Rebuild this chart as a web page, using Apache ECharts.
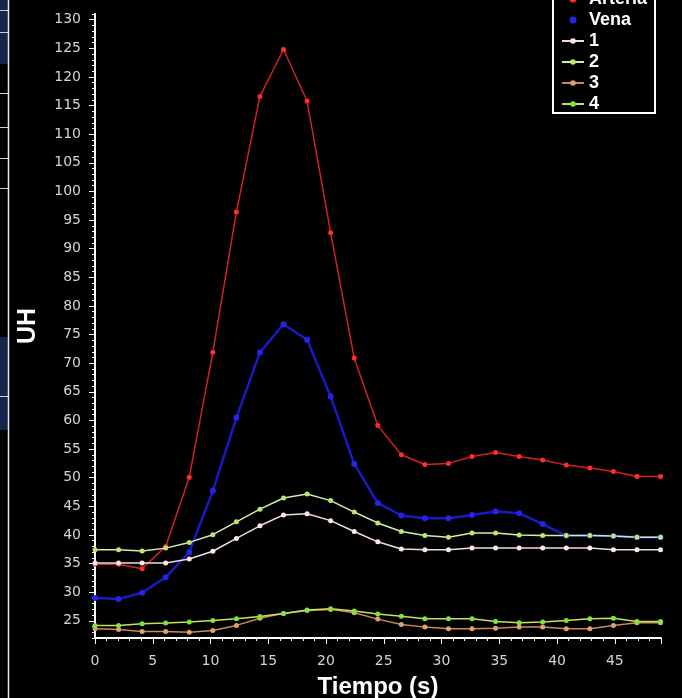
<!DOCTYPE html>
<html>
<head>
<meta charset="utf-8">
<script src="https://cdn.jsdelivr.net/npm/echarts@6/dist/echarts.min.js"></script>
<style>
html,body{margin:0;padding:0;background:#000;}
#c{width:682px;height:698px;}
</style>
</head>
<body>
<div id="c"></div>
<script>
var times = [0, 2.04, 4.08, 6.12, 8.16, 10.2, 12.24, 14.28, 16.32, 18.36, 20.4, 22.44, 24.48, 26.52, 28.56, 30.6, 32.64, 34.68, 36.72, 38.76, 40.8, 42.84, 44.88, 46.92, 48.96];
var arteria = [34.9, 34.9, 34.1, 38.0, 50.1, 71.9, 96.4, 116.6, 124.8, 115.8, 92.8, 70.9, 59.1, 54.0, 52.3, 52.5, 53.7, 54.4, 53.7, 53.1, 52.2, 51.7, 51.1, 50.2, 50.2];
var vena = [29.0, 28.8, 29.9, 32.6, 37.0, 47.7, 60.5, 71.9, 76.8, 74.1, 64.2, 52.4, 45.6, 43.4, 42.9, 42.9, 43.5, 44.1, 43.8, 41.9, 39.9, 39.9, 39.8, 39.6, 39.6];
var roi1 = [35.1, 35.1, 35.1, 35.1, 35.8, 37.15, 39.4, 41.6, 43.5, 43.7, 42.5, 40.6, 38.8, 37.55, 37.4, 37.4, 37.7, 37.7, 37.7, 37.7, 37.7, 37.7, 37.4, 37.4, 37.4];
var roi2 = [37.4, 37.4, 37.2, 37.7, 38.7, 40.05, 42.3, 44.5, 46.45, 47.15, 46.0, 44.0, 42.1, 40.6, 39.9, 39.6, 40.35, 40.35, 40.0, 39.9, 39.9, 39.9, 39.8, 39.6, 39.6];
var roi3 = [23.6, 23.5, 23.15, 23.15, 23.0, 23.3, 24.2, 25.45, 26.3, 26.8, 27.0, 26.4, 25.3, 24.35, 23.9, 23.6, 23.6, 23.7, 23.9, 23.9, 23.6, 23.6, 24.2, 24.65, 24.65];
var roi4 = [24.2, 24.2, 24.5, 24.6, 24.8, 25.05, 25.35, 25.75, 26.3, 26.9, 27.1, 26.7, 26.2, 25.8, 25.35, 25.35, 25.35, 24.9, 24.65, 24.8, 25.05, 25.35, 25.45, 24.9, 24.9];
var seriesNames = ['Arteria', 'Vena', '1', '2', '3', '4'];
var yTickLabels = [25, 30, 35, 40, 45, 50, 55, 60, 65, 70, 75, 80, 85, 90, 95, 100, 105, 110, 115, 120, 125, 130];

var yMin = 22, yMax = 131;
var yMinor = [];
for (var v = yMin; v <= yMax; v++) yMinor.push(v);

function pairs(vals) {
  return times.map(function (t, i) { return [t, vals[i]]; });
}

var styles = [
  {line: '#d02222', sym: '#ff2c2c', w: 1.5},
  {line: '#1a1ac4', sym: '#2424e8', w: 2.5},
  {line: '#eedde4', sym: '#ffe4ee', w: 1.5},
  {line: '#d4ecb0', sym: '#b8e868', w: 1.5},
  {line: '#c88a5a', sym: '#e0a070', w: 1.5},
  {line: '#c8e060', sym: '#78e838', w: 1.5}
];
var dataSets = [arteria, vena, roi1, roi2, roi3, roi4];

var series = dataSets.map(function (d, i) {
  return {
    name: seriesNames[i],
    type: 'line',
    data: pairs(d),
    xAxisIndex: 0,
    yAxisIndex: 0,
    symbol: 'circle',
    symbolSize: i === 1 ? 6 : 5,
    showSymbol: true,
    lineStyle: {color: styles[i].line, width: styles[i].w},
    itemStyle: {color: styles[i].sym},
    emphasis: {disabled: true},
    animation: false
  };
});

var labelFont = 'DejaVu Sans, Verdana, sans-serif';
var titleFont = 'Liberation Sans, Arial, sans-serif';

var chart = echarts.init(document.getElementById('c'));
chart.setOption({
  backgroundColor: '#000',
  animation: false,
  grid: {left: 95, right: 21, top: 14, bottom: 60, containLabel: false, outerBoundsMode: 'none'},
  legend: {
    orient: 'vertical',
    right: 27,
    top: -15,
    padding: [5, 8, 0, 8],
    itemGap: 3,
    itemWidth: 22,
    itemHeight: 7,
    backgroundColor: '#000',
    borderColor: '#ffffff',
    borderWidth: 2,
    textStyle: {color: '#ffffff', fontWeight: 'bold', fontSize: 18, fontFamily: titleFont},
    data: [
      {name: 'Arteria', icon: 'circle'},
      {name: 'Vena', icon: 'circle'},
      '1', '2', '3', '4'
    ]
  },
  xAxis: {
    type: 'value',
    min: 0,
    max: 49,
    interval: 5,
    name: 'Tiempo (s)',
    nameLocation: 'middle',
    nameGap: 37,
    nameTextStyle: {color: '#ffffff', fontSize: 24, fontWeight: 'bold', fontFamily: titleFont},
    axisLine: {show: true, onZero: false, lineStyle: {color: '#ffffff', width: 2}},
    axisTick: {show: true, length: 6, lineStyle: {color: '#ffffff', width: 1}},
    minorTick: {show: true, splitNumber: 5, length: 3, lineStyle: {color: '#ffffff', width: 1}},
    axisLabel: {color: '#d4d4d4', fontSize: 14, margin: 16, showMaxLabel: false, fontFamily: labelFont},
    splitLine: {show: false}
  },
  yAxis: [{
    type: 'value',
    min: yMin,
    max: yMax,
    name: 'UH',
    nameLocation: 'middle',
    nameGap: 54,
    nameRotate: 90,
    nameTextStyle: {color: '#ffffff', fontSize: 25, fontWeight: 'bold', fontFamily: titleFont},
    axisLine: {show: true, onZero: false, lineStyle: {color: '#ffffff', width: 2}},
    axisTick: {show: true, length: 6, customValues: yTickLabels, lineStyle: {color: '#ffffff', width: 1}},
    axisLabel: {show: true, customValues: yTickLabels, color: '#d4d4d4', fontSize: 14, margin: 14, fontFamily: labelFont},
    splitLine: {show: false}
  }, {
    type: 'value',
    min: yMin,
    max: yMax,
    position: 'left',
    offset: 0,
    axisLine: {show: false},
    axisTick: {show: true, length: 3, customValues: yMinor, lineStyle: {color: '#ffffff', width: 1}},
    axisLabel: {show: false},
    splitLine: {show: false}
  }],
  graphic: [
    {type: 'rect', shape: {x: 0, y: 0, width: 8, height: 64}, style: {fill: '#16264a'}},
    {type: 'rect', shape: {x: 0, y: 337, width: 8, height: 93}, style: {fill: '#16264a'}},
    {type: 'line', shape: {x1: 0, y1: 10.5, x2: 8, y2: 10.5}, style: {stroke: '#c8d0e0', lineWidth: 1}},
    {type: 'line', shape: {x1: 0, y1: 32.5, x2: 8, y2: 32.5}, style: {stroke: '#c8d0e0', lineWidth: 1}},
    {type: 'line', shape: {x1: 0, y1: 93.5, x2: 8, y2: 93.5}, style: {stroke: '#c8d0e0', lineWidth: 1}},
    {type: 'line', shape: {x1: 0, y1: 127.5, x2: 8, y2: 127.5}, style: {stroke: '#c8d0e0', lineWidth: 1}},
    {type: 'line', shape: {x1: 0, y1: 158.5, x2: 8, y2: 158.5}, style: {stroke: '#c8d0e0', lineWidth: 1}},
    {type: 'line', shape: {x1: 0, y1: 188.5, x2: 8, y2: 188.5}, style: {stroke: '#c8d0e0', lineWidth: 1}},
    {type: 'line', shape: {x1: 0, y1: 396.5, x2: 8, y2: 396.5}, style: {stroke: '#c8d0e0', lineWidth: 1}},
    {type: 'line', shape: {x1: 8.5, y1: 0, x2: 8.5, y2: 698}, style: {stroke: '#e8e8e8', lineWidth: 1.5}}
  ],
  series: series
});
</script>
</body>
</html>
